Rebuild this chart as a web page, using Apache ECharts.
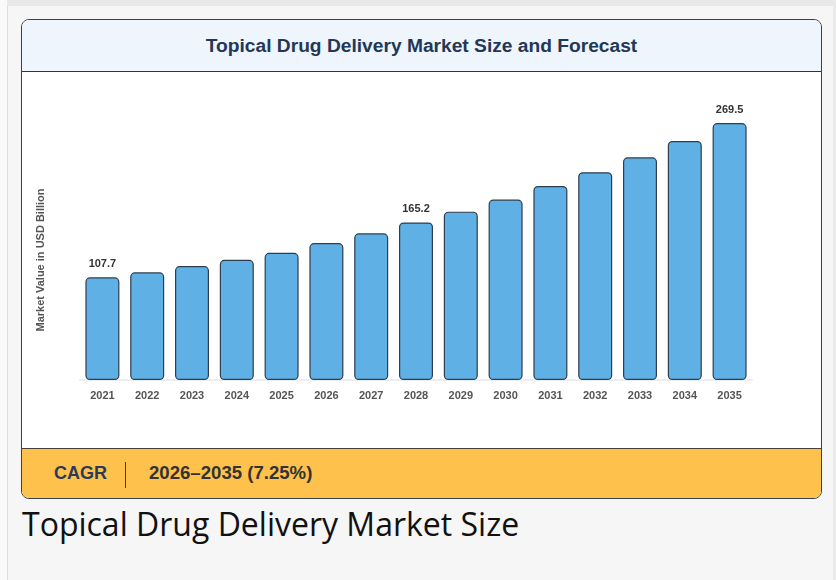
<!DOCTYPE html>
<html>
<head>
<meta charset="utf-8">
<script src="https://cdn.jsdelivr.net/npm/echarts@6/dist/echarts.min.js"></script>
<style>
  html, body { margin: 0; padding: 0; width: 836px; height: 580px; overflow: hidden; background: #e9e9e9; }
  #leftstrip { position: absolute; left: 0; top: 0; width: 7px; height: 580px; background: #fafafa; }
  #panel { position: absolute; left: 7px; top: 6px; width: 825px; height: 574px; background: #f6f6f6; border-left: 1px solid #dedede; }
  #card { position: absolute; left: 21px; top: 19px; width: 799px; height: 478px; border: 1px solid #3a3f4a; border-radius: 8px; background: #ffffff; overflow: hidden; }
  #header { position: absolute; left: 0; top: 0; width: 799px; height: 51px; background: #eef5fd; border-bottom: 1px solid #2f3540; }
  #title { position: absolute; left: 0; top: 0; width: 799px; height: 51px; line-height: 51px; text-align: center; font-family: "Liberation Sans", Arial, sans-serif; font-weight: bold; font-size: 19.2px; color: #233757; }
  #chart { position: absolute; left: 0; top: 52px; width: 799px; height: 376px; }
  #footer { position: absolute; left: 0; top: 428px; width: 799px; height: 50px; background: #fec14c; border-top: 1px solid #4a4038; }
  #cagr { position: absolute; left: 32px; top: 0; line-height: 48px; font-family: "Liberation Sans", Arial, sans-serif; font-weight: bold; font-size: 18px; color: #2a3b57; }
  #sep { position: absolute; left: 103px; top: 13px; width: 1px; height: 26px; background: #3a3a3a; }
  #range { position: absolute; left: 127px; top: 0; line-height: 48px; font-family: "Liberation Sans", Arial, sans-serif; font-weight: bold; font-size: 18.6px; color: #333333; }
  #caption { position: absolute; left: 22px; top: 502px; font-family: "Open Sans", sans-serif; font-size: 32px; color: #111111; white-space: nowrap; }
</style>
</head>
<body>
<div id="leftstrip"></div>
<div id="panel"></div>
<div id="card">
  <div id="header"><div id="title">Topical Drug Delivery Market Size and Forecast</div></div>
  <div id="chart"></div>
  <div id="footer">
    <div id="cagr">CAGR</div>
    <div id="sep"></div>
    <div id="range">2026–2035 (7.25%)</div>
  </div>
</div>
<div id="caption">Topical Drug Delivery Market Size</div>
<script>
const years = ['2021','2022','2023','2024','2025','2026','2027','2028','2029','2030','2031','2032','2033','2034','2035'];
const marketValues = [107.7, 112.9, 119.5, 126.1, 133.4, 143.6, 153.9, 165.2, 176.6, 189.3, 203.5, 217.9, 233.6, 250.7, 269.5];
const labeledYears = ['2021', '2028', '2035'];
const yAxisTitle = 'Market Value in USD Billion';

const chart = echarts.init(document.getElementById('chart'), null, { renderer: 'canvas' });
chart.setOption({
  animation: false,
  grid: { left: 58, right: 69, top: 22, bottom: 68 },
  graphic: [{
    type: 'text',
    x: 19,
    y: 188,
    rotation: Math.PI / 2,
    style: {
      text: yAxisTitle,
      align: 'center',
      verticalAlign: 'middle',
      fill: '#555555',
      font: 'bold 11px "Liberation Sans", Arial, sans-serif'
    }
  }],
  xAxis: {
    type: 'category',
    data: years,
    axisLine: { show: true, lineStyle: { color: '#eeeeee', width: 2 } },
    axisTick: { show: false },
    axisLabel: { margin: 10, color: '#555555', fontWeight: 'bold', fontSize: 11, fontFamily: 'Liberation Sans, Arial, sans-serif' }
  },
  yAxis: {
    type: 'value',
    min: 0,
    max: 300,
    axisLine: { show: false },
    axisTick: { show: false },
    axisLabel: { show: false },
    splitLine: { show: false }
  },
  series: [{
    type: 'bar',
    data: marketValues.map((v, i) => ({
      value: v,
      label: { show: labeledYears.includes(years[i]) }
    })),
    barWidth: 34,
    itemStyle: { color: '#5fb0e4', borderColor: '#2c3e50', borderWidth: 1.2, borderRadius: 4 },
    label: {
      position: 'top',
      distance: 8,
      color: '#333333',
      fontWeight: 'bold',
      fontSize: 11,
      fontFamily: 'Liberation Sans, Arial, sans-serif',
      formatter: p => p.value.toFixed(1)
    }
  }]
});
</script>
</body>
</html>
